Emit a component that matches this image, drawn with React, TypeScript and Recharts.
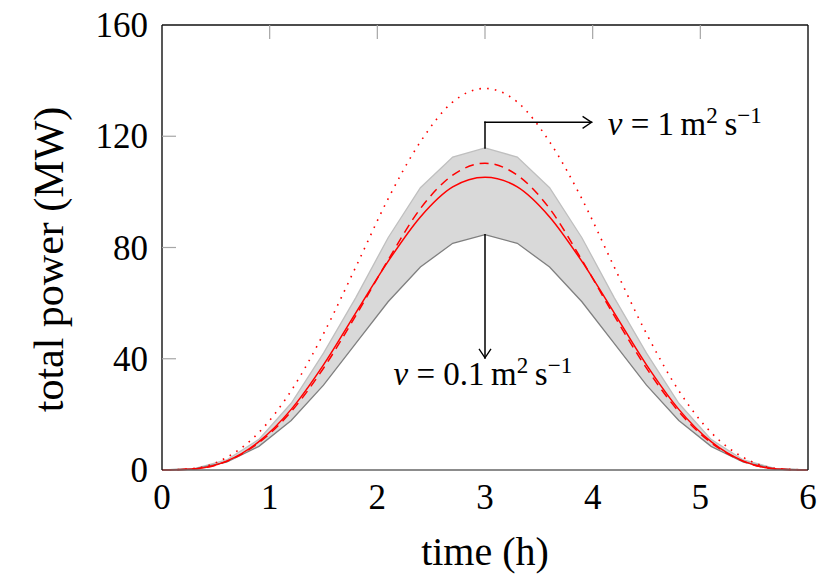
import { Area, ComposedChart, Line, ReferenceDot, ReferenceLine, XAxis, YAxis } from "recharts";

const timeH = [0, 0.3, 0.6, 0.9, 1.2, 1.5, 1.8, 2.1, 2.4, 2.7, 3, 3.3, 3.6, 3.9, 4.2, 4.5, 4.8, 5.1, 5.4, 5.7, 6];
const bandLow = [0, 0.4, 2.8, 8.5, 17.8, 30.5, 45.5, 60.5, 73, 81.5, 84.6, 81.5, 73, 60.5, 45.5, 30.5, 17.8, 8.5, 2.8, 0.4, 0];
const bandHigh = [0, 0.5, 3.6, 11, 24, 42, 62, 83.5, 101.5, 112.5, 115.8, 112.5, 101.5, 83.5, 62, 42, 24, 11, 3.6, 0.5, 0];
const powerSolid = [0, 0.4, 3.2, 10.2, 21.8, 37.8, 56.5, 75, 91, 101.8, 105.3, 101.8, 91, 75, 56.5, 37.8, 21.8, 10.2, 3.2, 0.4, 0];
const powerDashed = [0, 0.4, 3.1, 9.8, 21, 36.6, 55.5, 75.5, 94, 106, 110.3, 106, 94, 75.5, 55.5, 36.6, 21, 9.8, 3.1, 0.4, 0];
const powerDotted = [0, 0.6, 4.5, 13.5, 28.5, 49, 73, 97.5, 118, 132.3, 137.2, 132.3, 118, 97.5, 73, 49, 28.5, 13.5, 4.5, 0.6, 0];

const xTicks = [0, 1, 2, 3, 4, 5, 6];
const yTicks = [0, 40, 80, 120, 160];

const data = timeH.map((t, i) => ({
  t,
  lo: bandLow[i],
  hi: bandHigh[i],
  band: [bandLow[i], bandHigh[i]],
  solid: powerSolid[i],
  dashed: powerDashed[i],
  dotted: powerDotted[i],
}));

const FONT = '"Liberation Serif", "DejaVu Serif", serif';
const TICK_GREY = "#a6a6a6";

function BottomTick({ x, y, payload }: any) {
  return (
    <text x={x} y={y + 39} textAnchor="middle" fontFamily={FONT} fontSize={35} fill="#000">
      {payload.value}
    </text>
  );
}

function LeftTick({ x, y, payload }: any) {
  return (
    <g>
      {payload.value !== 0 && payload.value !== 160 && (
        <line x1={x} y1={y} x2={x + 14} y2={y} stroke={TICK_GREY} strokeWidth={1.2} />
      )}
      <text x={x - 14} y={y + 12} textAnchor="end" fontFamily={FONT} fontSize={35} fill="#000">
        {payload.value}
      </text>
    </g>
  );
}

function TopTick({ x, y, payload }: any) {
  if (payload.value === 0 || payload.value === 6) return <g />;
  return <line x1={x} y1={y} x2={x} y2={y + 14} stroke={TICK_GREY} strokeWidth={1.2} />;
}

function RightTick({ x, y, payload }: any) {
  if (payload.value === 0 || payload.value === 160) return <g />;
  return <line x1={x} y1={y} x2={x - 14} y2={y} stroke={TICK_GREY} strokeWidth={1.2} />;
}

// straight segment, optional open arrow head at the end point
function arrow(head: boolean) {
  return (p: any) => {
    const { x1, y1, x2, y2 } = p;
    const len = Math.hypot(x2 - x1, y2 - y1) || 1;
    const ux = (x2 - x1) / len;
    const uy = (y2 - y1) / len;
    const px = -uy;
    const py = ux;
    const L = 9;
    const W = 6;
    const a = `${x2 - L * ux + W * px},${y2 - L * uy + W * py}`;
    const b = `${x2 - L * ux - W * px},${y2 - L * uy - W * py}`;
    const c1 = `${x2 - 0.3 * L * ux + 0.3 * W * px},${y2 - 0.3 * L * uy + 0.3 * W * py}`;
    const c2 = `${x2 - 0.3 * L * ux - 0.3 * W * px},${y2 - 0.3 * L * uy - 0.3 * W * py}`;
    return (
      <g>
        <line x1={x1} y1={y1} x2={x2} y2={y2} stroke="#000" strokeWidth={1.5} strokeLinecap="square" />
        {head && <path d={`M${a} Q${c1} ${x2},${y2} Q${c2} ${b}`} fill="none" stroke="#000" strokeWidth={1.3} />}
      </g>
    );
  };
}

function nuLabel(value: string, anchor: "start" | "middle") {
  return (p: any) => (
    <text x={p.cx} y={p.cy} textAnchor={anchor} fontFamily={FONT} fontSize={33} fill="#000">
      <tspan fontStyle="italic">ν</tspan>
      <tspan>{` = ${value}\u2009m`}</tspan>
      <tspan dy={-12} fontSize={23}>2</tspan>
      <tspan dy={12}>{"\u2009s"}</tspan>
      <tspan dy={-12} fontSize={23}>−1</tspan>
    </text>
  );
}

export default function App() {
  return (
    <div style={{ position: "absolute", left: 0, top: 0, width: 831, height: 587, background: "#fff" }}>
      <ComposedChart width={831} height={587} data={data} margin={{ top: 0, right: 0, left: 0, bottom: 0 }}>
        <XAxis
          dataKey="t"
          type="number"
          domain={[0, 6]}
          ticks={xTicks}
          height={117}
          tickSize={0}
          tickMargin={0}
          tick={<BottomTick />}
          axisLine={{ stroke: "#666", strokeWidth: 1.3 }}
          tickLine={false}
          label={(props: any) => {
            const vb = props.viewBox;
            return (
              <text x={vb.x + vb.width / 2} y={vb.y + 95} textAnchor="middle" fontFamily={FONT} fontSize={40} fill="#000">
                time (h)
              </text>
            );
          }}
        />
        <XAxis
          xAxisId="top"
          dataKey="t"
          type="number"
          domain={[0, 6]}
          ticks={xTicks}
          orientation="top"
          height={25}
          tickSize={0}
          tickMargin={0}
          tick={<TopTick />}
          axisLine={{ stroke: "#111", strokeWidth: 1.4 }}
          tickLine={false}
        />
        <YAxis
          type="number"
          domain={[0, 160]}
          ticks={yTicks}
          width={162}
          tickSize={0}
          tickMargin={0}
          tick={<LeftTick />}
          axisLine={{ stroke: "#111", strokeWidth: 1.4 }}
          tickLine={false}
          label={(props: any) => {
            const vb = props.viewBox;
            const cx = vb.x + 49;
            const cy = vb.y + vb.height / 2 + 12;
            return (
              <text
                x={cx}
                y={cy}
                transform={`rotate(-90 ${cx} ${cy})`}
                textAnchor="middle"
                dominantBaseline="central"
                fontFamily={FONT}
                fontSize={42}
                fill="#000"
              >
                total power (MW)
              </text>
            );
          }}
        />
        <YAxis
          yAxisId="right"
          type="number"
          domain={[0, 160]}
          ticks={yTicks}
          orientation="right"
          width={23}
          tickSize={0}
          tickMargin={0}
          tick={<RightTick />}
          axisLine={{ stroke: "#111", strokeWidth: 1.4 }}
          tickLine={false}
        />

        <Area dataKey="band" type="linear" fill="#d9d9d9" fillOpacity={1} stroke="none" isAnimationActive={false} />
        <Line dataKey="hi" type="linear" stroke="#bfbfbf" strokeWidth={1.3} dot={false} isAnimationActive={false} />
        <Line dataKey="lo" type="linear" stroke="#7f7f7f" strokeWidth={1.3} dot={false} isAnimationActive={false} />
        <Line dataKey="dotted" type="monotone" stroke="#ff0000" strokeWidth={1.6} strokeDasharray="1.6 6.2" dot={false} isAnimationActive={false} />
        <Line dataKey="dashed" type="monotone" stroke="#ff0000" strokeWidth={1.5} strokeDasharray="9 6" dot={false} isAnimationActive={false} />
        <Line dataKey="solid" type="monotone" stroke="#ff0000" strokeWidth={1.5} dot={false} isAnimationActive={false} />

        <ReferenceLine segment={[{ x: 3, y: 115.8 }, { x: 3, y: 125 }]} shape={arrow(false)} />
        <ReferenceLine segment={[{ x: 3, y: 125 }, { x: 3.99, y: 125 }]} shape={arrow(true)} />
        <ReferenceLine segment={[{ x: 3, y: 84.6 }, { x: 3, y: 40.3 }]} shape={arrow(true)} />
        <ReferenceDot x={4.14} y={120.5} shape={nuLabel("1", "start")} />
        <ReferenceDot x={2.98} y={30.7} shape={nuLabel("0.1", "middle")} />
      </ComposedChart>
    </div>
  );
}
